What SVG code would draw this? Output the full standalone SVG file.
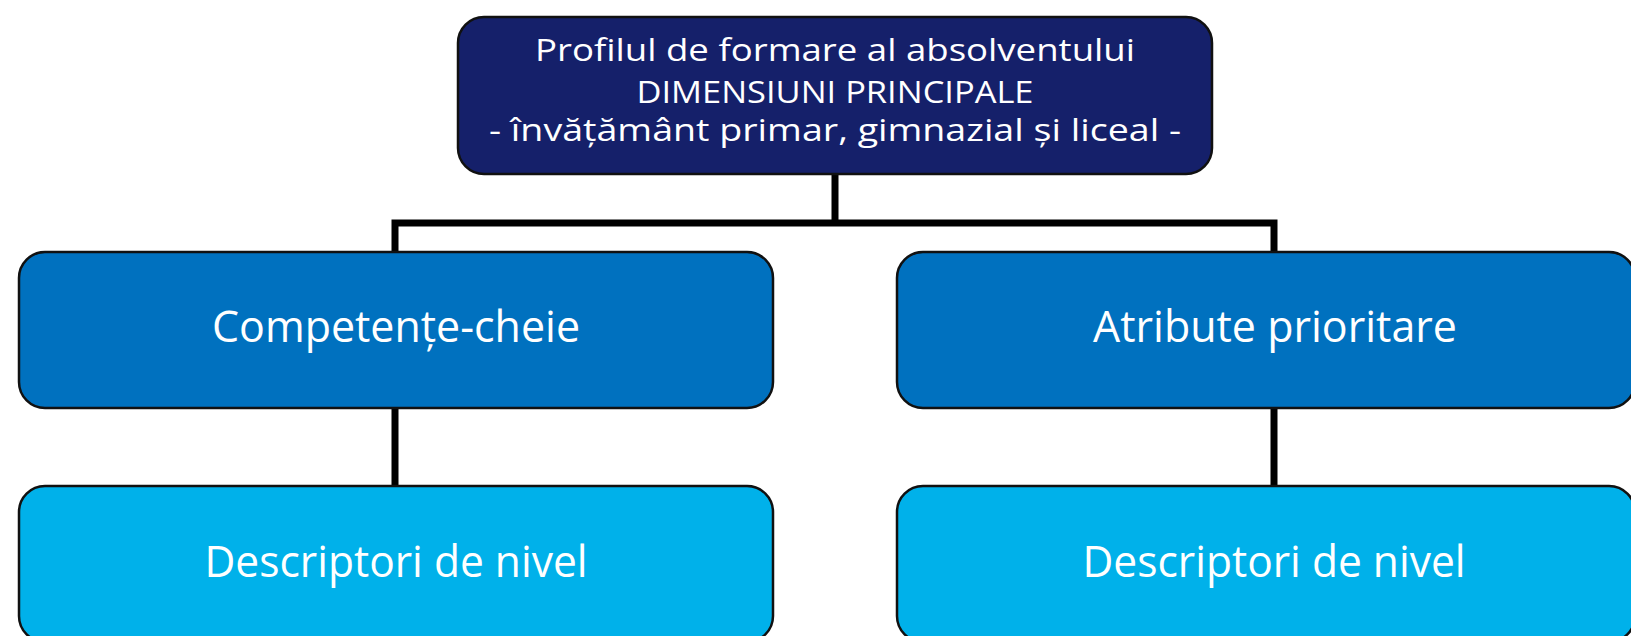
<svg xmlns="http://www.w3.org/2000/svg" width="1631" height="636" viewBox="0 0 1631 636">
<style>
.box{stroke:#111;stroke-width:2.5}
.top{fill:#15206a}
.mid{fill:#0071bf}
.bot{fill:#00b1ea}
text{font-family:"Open Sans","Noto Sans","DejaVu Sans",sans-serif;fill:#fff;text-anchor:middle}
.t1{font-size:31px}
.t2{font-size:43px}
.conn{fill:none;stroke:#000;stroke-width:7;stroke-linecap:square}
</style>
<rect width="1631" height="636" fill="#fff"/>
<g id="connectors">
<path class="conn" d="M835 176V223M395 223H1274M395 223V249M1274 223V249M395 410V484M1274 410V484"/>
</g>
<g id="node-top">
<rect class="box top" x="458" y="17" width="754" height="157" rx="26"/>
<text class="t1" x="835" y="61" textLength="600" lengthAdjust="spacingAndGlyphs">Profilul de formare al absolventului</text>
<text class="t1" x="835" y="103" textLength="397" lengthAdjust="spacingAndGlyphs">DIMENSIUNI PRINCIPALE</text>
<text class="t1" x="835" y="141" textLength="692" lengthAdjust="spacingAndGlyphs">- învățământ primar, gimnazial și liceal -</text>
</g>
<g id="node-competente">
<rect class="box mid" x="19" y="252" width="754" height="156" rx="26"/>
<text class="t2" x="396" y="342" textLength="368" lengthAdjust="spacingAndGlyphs">Competențe-cheie</text>
</g>
<g id="node-atribute">
<rect class="box mid" x="897" y="252" width="738" height="156" rx="26"/>
<text class="t2" x="1275" y="342" textLength="364" lengthAdjust="spacingAndGlyphs">Atribute prioritare</text>
</g>
<g id="node-descriptori-1">
<rect class="box bot" x="19" y="486" width="754" height="156" rx="26"/>
<text class="t2" x="396" y="577" textLength="383" lengthAdjust="spacingAndGlyphs">Descriptori de nivel</text>
</g>
<g id="node-descriptori-2">
<rect class="box bot" x="897" y="486" width="738" height="156" rx="26"/>
<text class="t2" x="1274" y="577" textLength="383" lengthAdjust="spacingAndGlyphs">Descriptori de nivel</text>
</g>
</svg>
